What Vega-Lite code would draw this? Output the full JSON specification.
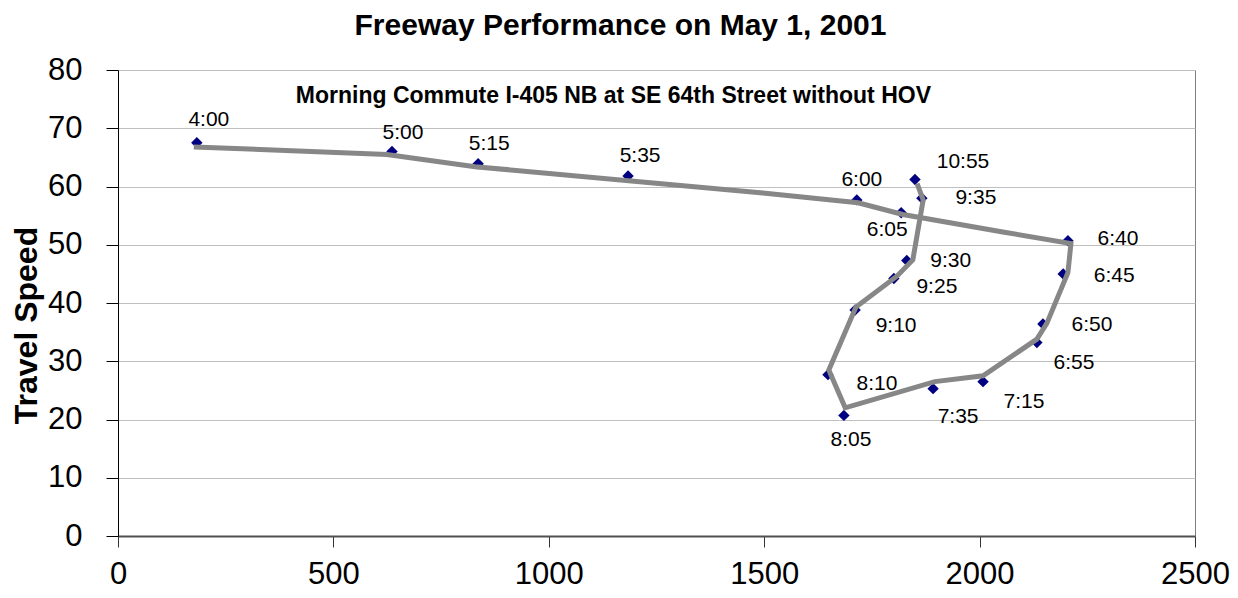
{
  "$schema": "https://vega.github.io/schema/vega-lite/v6.json",
  "width": 1077,
  "height": 466,
  "autosize": {"type": "none"},
  "padding": {"left": 118, "top": 70, "right": 43, "bottom": 62},
  "background": "white",
  "title": {
    "text": "Freeway Performance on May 1, 2001",
    "font": "Liberation Sans",
    "fontSize": 30,
    "fontWeight": "bold",
    "color": "black",
    "anchor": "middle",
    "dx": -36,
    "offset": 13
  },
  "datasets": {
    "pts": [
      {"t": "4:00", "volume": 183, "speed": 67.5},
      {"t": "5:00", "volume": 636, "speed": 66.0},
      {"t": "5:15", "volume": 836, "speed": 63.9},
      {"t": "5:35", "volume": 1184, "speed": 61.8},
      {"t": "6:00", "volume": 1715, "speed": 57.7},
      {"t": "6:05", "volume": 1818, "speed": 55.5},
      {"t": "6:40", "volume": 2205, "speed": 50.7},
      {"t": "6:45", "volume": 2194, "speed": 45.0},
      {"t": "6:50", "volume": 2147, "speed": 36.4},
      {"t": "6:55", "volume": 2133, "speed": 33.2},
      {"t": "7:15", "volume": 2008, "speed": 26.5},
      {"t": "7:35", "volume": 1892, "speed": 25.3},
      {"t": "8:05", "volume": 1685, "speed": 20.7},
      {"t": "8:10", "volume": 1648, "speed": 27.7},
      {"t": "9:10", "volume": 1711, "speed": 38.8},
      {"t": "9:25", "volume": 1801, "speed": 44.2},
      {"t": "9:30", "volume": 1831, "speed": 47.3},
      {"t": "9:35", "volume": 1866, "speed": 58.0},
      {"t": "10:55", "volume": 1850, "speed": 61.2}
    ],
    "ln": [
      {"seq": 1, "volume": 176, "speed": 66.8},
      {"seq": 2, "volume": 624, "speed": 65.5},
      {"seq": 3, "volume": 829, "speed": 63.4},
      {"seq": 4, "volume": 1497, "speed": 58.9},
      {"seq": 5, "volume": 1718, "speed": 57.2},
      {"seq": 6, "volume": 1822, "speed": 55.2},
      {"seq": 7, "volume": 2054, "speed": 52.2},
      {"seq": 8, "volume": 2212, "speed": 50.2},
      {"seq": 9, "volume": 2205, "speed": 45.2},
      {"seq": 10, "volume": 2156, "speed": 36.5},
      {"seq": 11, "volume": 2133, "speed": 33.8},
      {"seq": 12, "volume": 2008, "speed": 27.5},
      {"seq": 13, "volume": 1896, "speed": 26.5},
      {"seq": 14, "volume": 1688, "speed": 22.0},
      {"seq": 15, "volume": 1650, "speed": 28.5},
      {"seq": 16, "volume": 1713, "speed": 39.3},
      {"seq": 17, "volume": 1808, "speed": 44.6},
      {"seq": 18, "volume": 1845, "speed": 47.4},
      {"seq": 19, "volume": 1869, "speed": 57.7},
      {"seq": 20, "volume": 1855, "speed": 60.5}
    ],
    "note": [{"label": "Morning Commute I-405 NB at SE 64th Street without HOV"}]
  },
  "layer": [
    {
      "data": {"name": "pts"},
      "mark": {"type": "point", "shape": "diamond", "filled": true, "color": "#000080", "size": 130, "opacity": 1},
      "encoding": {
        "x": {
          "field": "volume", "type": "quantitative",
          "scale": {"domain": [0, 2500], "nice": false, "zero": true},
          "axis": {
            "title": null,
            "values": [0, 500, 1000, 1500, 2000, 2500],
            "format": "d",
            "grid": false,
            "domainColor": "#505050",
            "domainWidth": 2,
            "tickColor": "#333333",
            "tickSize": 11,
            "labelPadding": 12,
            "labelFontSize": 31,
            "labelFont": "Liberation Sans",
            "labelColor": "black",
            "labelFlush": false
          }
        },
        "y": {
          "field": "speed", "type": "quantitative",
          "scale": {"domain": [0, 80], "nice": false},
          "axis": {
            "title": "Travel Speed",
            "values": [0, 10, 20, 30, 40, 50, 60, 70, 80],
            "grid": true,
            "gridColor": "#c0c0c0",
            "gridWidth": 1,
            "domainColor": "black",
            "tickColor": "black",
            "tickSize": 12,
            "labelPadding": 24,
            "labelFontSize": 31,
            "labelFont": "Liberation Sans",
            "labelColor": "black",
            "labelFlush": false,
            "titleFont": "Liberation Sans",
            "titleFontSize": 32,
            "titleFontWeight": "bold",
            "titleColor": "black",
            "titleAngle": -90,
            "titleAlign": "center",
            "titleBaseline": "middle",
            "titleX": -92,
            "titleY": 255
          }
        }
      }
    },
    {
      "data": {"name": "ln"},
      "mark": {"type": "line", "color": "#878787", "strokeWidth": 5, "strokeJoin": "miter", "strokeCap": "butt"},
      "encoding": {
        "x": {"field": "volume", "type": "quantitative"},
        "y": {"field": "speed", "type": "quantitative"},
        "order": {"field": "seq", "type": "quantitative"}
      }
    },
    {
      "data": {"name": "note"},
      "mark": {"type": "text", "font": "Liberation Sans", "fontSize": 23, "fontWeight": "bold", "color": "black", "align": "center", "baseline": "middle"},
      "encoding": {
        "x": {"datum": 1150, "type": "quantitative"},
        "y": {"datum": 75.5, "type": "quantitative"},
        "text": {"field": "label", "type": "nominal"}
      }
    },
    {
      "data": {"name": "pts"},
      "encoding": {
        "x": {"field": "volume", "type": "quantitative"},
        "y": {"field": "speed", "type": "quantitative"},
        "text": {"field": "t", "type": "nominal"}
      },
      "layer": [
        {"transform": [{"filter": "datum.t === '4:00'"}], "mark": {"type": "text", "dx": 12, "dy": -23}},
        {"transform": [{"filter": "datum.t === '5:00'"}], "mark": {"type": "text", "dx": 11, "dy": -19}},
        {"transform": [{"filter": "datum.t === '5:15'"}], "mark": {"type": "text", "dx": 11, "dy": -20}},
        {"transform": [{"filter": "datum.t === '5:35'"}], "mark": {"type": "text", "dx": 12, "dy": -20}},
        {"transform": [{"filter": "datum.t === '6:00'"}], "mark": {"type": "text", "dx": 5, "dy": -20}},
        {"transform": [{"filter": "datum.t === '6:05'"}], "mark": {"type": "text", "dx": -14, "dy": 17}},
        {"transform": [{"filter": "datum.t === '10:55'"}], "mark": {"type": "text", "dx": 48, "dy": -18}},
        {"transform": [{"filter": "datum.t === '9:35'"}], "mark": {"type": "text", "dx": 54, "dy": 0}},
        {"transform": [{"filter": "datum.t === '6:40'"}], "mark": {"type": "text", "dx": 50, "dy": -2}},
        {"transform": [{"filter": "datum.t === '9:30'"}], "mark": {"type": "text", "dx": 44, "dy": 1}},
        {"transform": [{"filter": "datum.t === '9:25'"}], "mark": {"type": "text", "dx": 43, "dy": 8}},
        {"transform": [{"filter": "datum.t === '6:45'"}], "mark": {"type": "text", "dx": 51, "dy": 2}},
        {"transform": [{"filter": "datum.t === '9:10'"}], "mark": {"type": "text", "dx": 41, "dy": 16}},
        {"transform": [{"filter": "datum.t === '6:50'"}], "mark": {"type": "text", "dx": 49, "dy": 1}},
        {"transform": [{"filter": "datum.t === '6:55'"}], "mark": {"type": "text", "dx": 37, "dy": 20}},
        {"transform": [{"filter": "datum.t === '7:15'"}], "mark": {"type": "text", "dx": 41, "dy": 20}},
        {"transform": [{"filter": "datum.t === '7:35'"}], "mark": {"type": "text", "dx": 25, "dy": 28}},
        {"transform": [{"filter": "datum.t === '8:05'"}], "mark": {"type": "text", "dx": 7, "dy": 25}},
        {"transform": [{"filter": "datum.t === '8:10'"}], "mark": {"type": "text", "dx": 49, "dy": 9}}
      ]
    }
  ],
  "config": {
    "view": {"stroke": "#808080", "strokeWidth": 1},
    "text": {"align": "center", "baseline": "middle", "font": "Liberation Sans", "fontSize": 21, "color": "black"}
  }
}
